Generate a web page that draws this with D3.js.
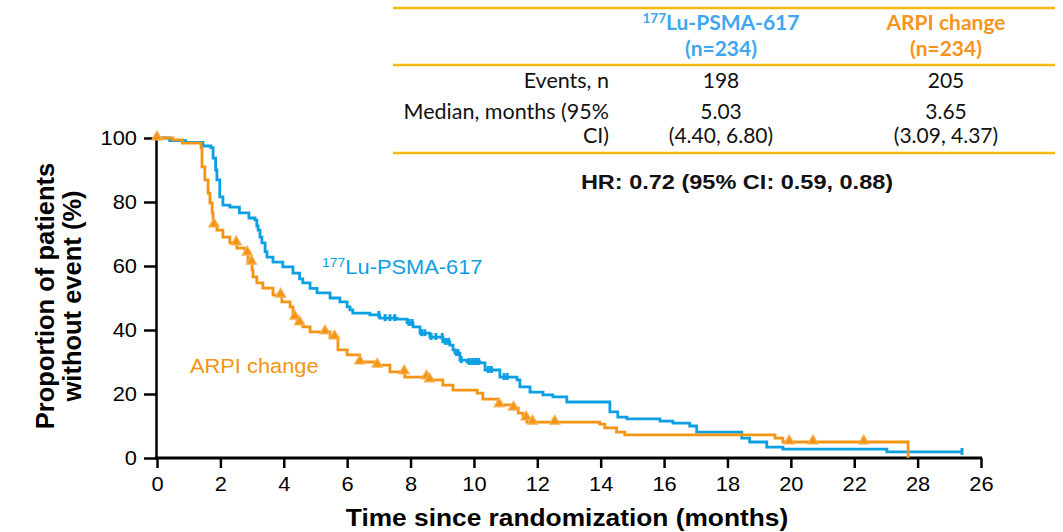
<!DOCTYPE html>
<html>
<head>
<meta charset="utf-8">
<script src="https://cdn.jsdelivr.net/npm/d3@7"></script>
<style>
  body { margin: 0; background: #fff; }
  svg { display: block; }
</style>
</head>
<body>
<svg id="chart" width="1063" height="532"></svg>
<script>
// Kaplan–Meier estimates: [month, % without event] — value holds from that month onward
const lutetiumCurve = [
  [0, 100], [0.4, 99.2], [0.9, 98.6], [1.45, 97.5], [1.7, 97], [1.77, 93.7], [1.85, 90],
  [1.89, 86.9], [1.98, 81.6], [2.08, 79], [2.3, 78.4], [2.6, 76.6], [2.9, 75], [3.09, 74.4],
  [3.15, 72.5], [3.19, 71.2], [3.25, 69], [3.31, 67.2], [3.41, 64.5], [3.47, 62.8], [3.66, 61.2],
  [3.97, 59.7], [4.29, 57.8], [4.5, 56], [4.6, 54.7], [4.83, 53], [5.05, 51.6], [5.46, 50],
  [5.77, 48.8], [6.0, 47.2], [6.09, 46.3], [6.18, 45.3], [6.72, 44.7], [7.03, 43.7], [7.57, 43.4],
  [7.89, 42.2], [8.08, 41], [8.3, 39], [8.61, 37.8], [9.02, 36.3], [9.24, 35.3], [9.34, 33.8],
  [9.4, 32.8], [9.56, 30.6], [9.78, 30], [10.19, 29.7], [10.35, 27.5], [10.82, 25.3], [11.36, 24.4],
  [11.45, 22.2], [11.77, 20.6], [12.18, 19.7], [12.49, 19.1], [12.93, 17.5], [14.29, 14.4],
  [14.54, 12.8], [14.83, 12.2], [15.87, 11.5], [16.28, 10.9], [16.81, 10.0], [17.03, 8.1],
  [18.45, 6.2], [18.7, 5.0], [19.24, 3.4], [19.75, 2.8], [23.03, 1.9], [25.4, 1.9]
];

const arpiCurve = [
  [0, 100], [0.5, 99.4], [0.8, 98.4], [1.39, 96.9], [1.42, 91], [1.51, 86.9], [1.61, 82.8],
  [1.67, 79.7], [1.74, 76.6], [1.77, 72.8], [1.89, 71.2], [2.08, 69], [2.3, 67.2], [2.52, 65.6],
  [2.78, 64], [2.87, 61.2], [3.0, 58.8], [3.03, 56.6], [3.15, 54.7], [3.34, 53.1], [3.66, 50.9],
  [3.94, 48.8], [4.2, 47.2], [4.29, 44], [4.42, 42.2], [4.6, 41], [4.83, 39.4], [5.46, 37.8],
  [5.71, 33.8], [6.0, 32.2], [6.4, 30], [6.94, 29], [7.35, 26.9], [7.82, 25.3], [8.55, 24.4],
  [9.02, 22.8], [9.34, 21.2], [10.1, 20.3], [10.28, 18.4], [10.76, 16.6], [11.23, 15.6],
  [11.4, 14], [11.55, 12.5], [11.67, 11.2], [13.97, 10.6], [14.13, 9.4], [14.5, 8.1],
  [14.76, 7.2], [19.5, 6.2], [19.75, 5.0], [23.7, 0]
];

// Censoring times (months)
const lutetiumCensored = [
  7.0, 7.2, 7.35, 7.5, 7.95, 8.05, 8.35, 8.45, 8.65, 8.8, 9.0, 9.1, 9.2, 9.45, 9.5,
  9.6, 9.85, 9.95, 10.05, 10.15, 10.45, 10.55, 10.95, 11.05, 25.4
];
const arpiCensored = [
  0, 1.8, 2.5, 2.85, 2.98, 3.9, 4.35, 4.5, 5.3, 5.6, 6.4, 6.95, 7.8, 8.5, 8.6,
  10.8, 11.25, 11.65, 11.85, 12.55, 19.95, 20.7, 22.3
];

const xTickValues = [0, 2, 4, 6, 8, 10, 12, 14, 16, 18, 20, 22, 24, 26];
const xTickLabels = ["0", "2", "4", "6", "8", "10", "12", "14", "16", "18", "20", "22", "28", "26"];
const yTickValues = [0, 20, 40, 60, 80, 100];

const tableRowLabels = ["Events, n", "Median, months (95%", "CI)"];
const lutetiumStats = ["198", "5.03", "(4.40, 6.80)"];
const arpiStats = ["205", "3.65", "(3.09, 4.37)"];
const hazardRatioText = "HR: 0.72 (95% CI: 0.59, 0.88)";

const BLUE = "#0c9fe2";
const ORANGE = "#f39512";
const GOLD = "#f8b811";
const HEAD_BLUE = "#3fa6f0";
const HEAD_ORANGE = "#f6941c";

const svg = d3.select("#chart");
const axisFont = "Liberation Sans, Arial, sans-serif";
const tableFont = "Lato, 'Open Sans', sans-serif";
const WIDEN = 1.12;   // horizontal widening used for the plot's sans-serif lettering

const x = d3.scaleLinear().domain([0, 26]).range([157, 981]);
const y = d3.scaleLinear().domain([0, 100]).range([458, 138]);

// Text drawn with a slight horizontal widening; (px, py) is the anchor point on the page
function wideText(parent, px, py, str, opts) {
  const t = parent.append("text")
    .attr("transform", `translate(${px},${py}) scale(${WIDEN},1)`)
    .attr("text-anchor", opts.anchor || "start")
    .attr("font-family", opts.family || axisFont)
    .attr("font-size", opts.size)
    .attr("font-weight", opts.weight || "normal")
    .attr("fill", opts.fill || "#000");
  if (str !== null) t.text(str);
  return t;
}

// ---- Axes ----
const xAxis = d3.axisBottom(x)
  .tickValues(xTickValues)
  .tickFormat((d, i) => xTickLabels[i])
  .tickSize(10)
  .tickSizeOuter(0);
const gx = svg.append("g").attr("transform", "translate(0,458)").call(xAxis);
gx.select(".domain").attr("stroke-width", 3).attr("d", `M${x(0) - 2},0H${x(26) + 1}`);
gx.selectAll(".tick line").attr("stroke-width", 2.5);
gx.selectAll(".tick text")
  .attr("y", 0).attr("dy", 0)
  .attr("transform", `translate(0,33) scale(${WIDEN},1)`)
  .attr("font-family", axisFont).attr("font-size", 19.5).attr("fill", "#000");

const yAxis = d3.axisLeft(y)
  .tickValues(yTickValues)
  .tickSize(12)
  .tickSizeOuter(0);
const gy = svg.append("g").attr("transform", "translate(156,0)").call(yAxis);
gy.select(".domain").attr("stroke-width", 2.5);
gy.selectAll(".tick line").attr("stroke-width", 2.5);
gy.selectAll(".tick text")
  .attr("x", 0).attr("dy", "0.34em")
  .attr("transform", `translate(-19,0) scale(${WIDEN},1)`)
  .attr("font-family", axisFont).attr("font-size", 19.5).attr("fill", "#000");

wideText(svg, 567, 526, "Time since randomization (months)",
  { anchor: "middle", weight: "bold", size: 23.5 });

const yTitle = svg.append("text")
  .attr("transform", "translate(0,296) rotate(-90)")
  .attr("text-anchor", "middle")
  .attr("font-family", axisFont).attr("font-weight", "bold").attr("font-size", 25.5);
yTitle.append("tspan").attr("x", 0).attr("y", 54).text("Proportion of patients");
yTitle.append("tspan").attr("x", 0).attr("y", 81).text("without event (%)");

// Heading of the at-risk table below the plot
wideText(svg, 86, 545, "Patients at risk", { anchor: "end", weight: "bold", size: 18 });

// ---- Survival curves ----
const stepLine = d3.line()
  .x(d => x(d[0]))
  .y(d => y(d[1]))
  .curve(d3.curveStepAfter);

function survivalAt(curve, t) {
  let s = curve[0][1];
  for (const [ti, si] of curve) { if (ti <= t) s = si; else break; }
  return s;
}

svg.append("path")
  .datum(lutetiumCurve)
  .attr("d", stepLine)
  .attr("fill", "none").attr("stroke", BLUE).attr("stroke-width", 2.8);

svg.append("path")
  .datum(arpiCurve)
  .attr("d", stepLine)
  .attr("fill", "none").attr("stroke", ORANGE).attr("stroke-width", 2.8);

// Censor marks: short ticks for the 177Lu-PSMA-617 arm, triangles for ARPI change
svg.append("g").selectAll("line")
  .data(lutetiumCensored)
  .join("line")
  .attr("x1", d => x(d)).attr("x2", d => x(d))
  .attr("y1", d => y(survivalAt(lutetiumCurve, d)) - 4)
  .attr("y2", d => y(survivalAt(lutetiumCurve, d)) + 3)
  .attr("stroke", BLUE).attr("stroke-width", 3);

const triangle = d3.symbol().type(d3.symbolTriangle).size(46);
svg.append("g").selectAll("path")
  .data(arpiCensored)
  .join("path")
  .attr("d", triangle)
  .attr("transform", d => `translate(${x(d)},${y(survivalAt(arpiCurve, d)) - 1})`)
  .attr("fill", ORANGE).attr("stroke", "#f7b25a").attr("stroke-width", 1.2);

// ---- Curve labels ----
const luLabel = wideText(svg, 322, 274, null, { size: 19.5, fill: BLUE });
luLabel.append("tspan").attr("font-size", 12.5).attr("dy", -7).text("177");
luLabel.append("tspan").attr("dy", 7).text("Lu-PSMA-617");

wideText(svg, 190, 373, "ARPI change", { size: 19.5, fill: ORANGE });

// ---- Summary table ----
const table = svg.append("g");
[8, 65, 153].forEach(yy => {
  table.append("line")
    .attr("x1", 393).attr("x2", 1055).attr("y1", yy).attr("y2", yy)
    .attr("stroke", GOLD).attr("stroke-width", 2.5);
});

const col1 = 721, col2 = 946, labelRight = 609;

const h1 = table.append("text")
  .attr("x", col1).attr("y", 30).attr("text-anchor", "middle")
  .attr("font-family", tableFont).attr("font-weight", "bold").attr("font-size", 21).attr("fill", HEAD_BLUE);
h1.append("tspan").attr("font-size", 13.5).attr("dy", -7).text("177");
h1.append("tspan").attr("dy", 7).text("Lu-PSMA-617");
table.append("text")
  .attr("x", col1).attr("y", 56).attr("text-anchor", "middle")
  .attr("font-family", tableFont).attr("font-weight", "bold").attr("font-size", 21).attr("fill", HEAD_BLUE)
  .text("(n=234)");
table.append("text")
  .attr("x", col2).attr("y", 30).attr("text-anchor", "middle")
  .attr("font-family", tableFont).attr("font-weight", "bold").attr("font-size", 21).attr("fill", HEAD_ORANGE)
  .text("ARPI change");
table.append("text")
  .attr("x", col2).attr("y", 56).attr("text-anchor", "middle")
  .attr("font-family", tableFont).attr("font-weight", "bold").attr("font-size", 21).attr("fill", HEAD_ORANGE)
  .text("(n=234)");

const rowY = [88, 119, 143];
tableRowLabels.forEach((lab, i) => {
  table.append("text")
    .attr("x", labelRight).attr("y", rowY[i]).attr("text-anchor", "end")
    .attr("font-family", tableFont).attr("font-size", 21.5).attr("fill", "#111")
    .text(lab);
  table.append("text")
    .attr("x", col1).attr("y", rowY[i]).attr("text-anchor", "middle")
    .attr("font-family", tableFont).attr("font-size", 21).attr("fill", "#111")
    .text(lutetiumStats[i]);
  table.append("text")
    .attr("x", col2).attr("y", rowY[i]).attr("text-anchor", "middle")
    .attr("font-family", tableFont).attr("font-size", 21).attr("fill", "#111")
    .text(arpiStats[i]);
});

wideText(svg, 737, 189, hazardRatioText,
  { anchor: "middle", weight: "bold", size: 21, fill: "#111" });
</script>
</body>
</html>
